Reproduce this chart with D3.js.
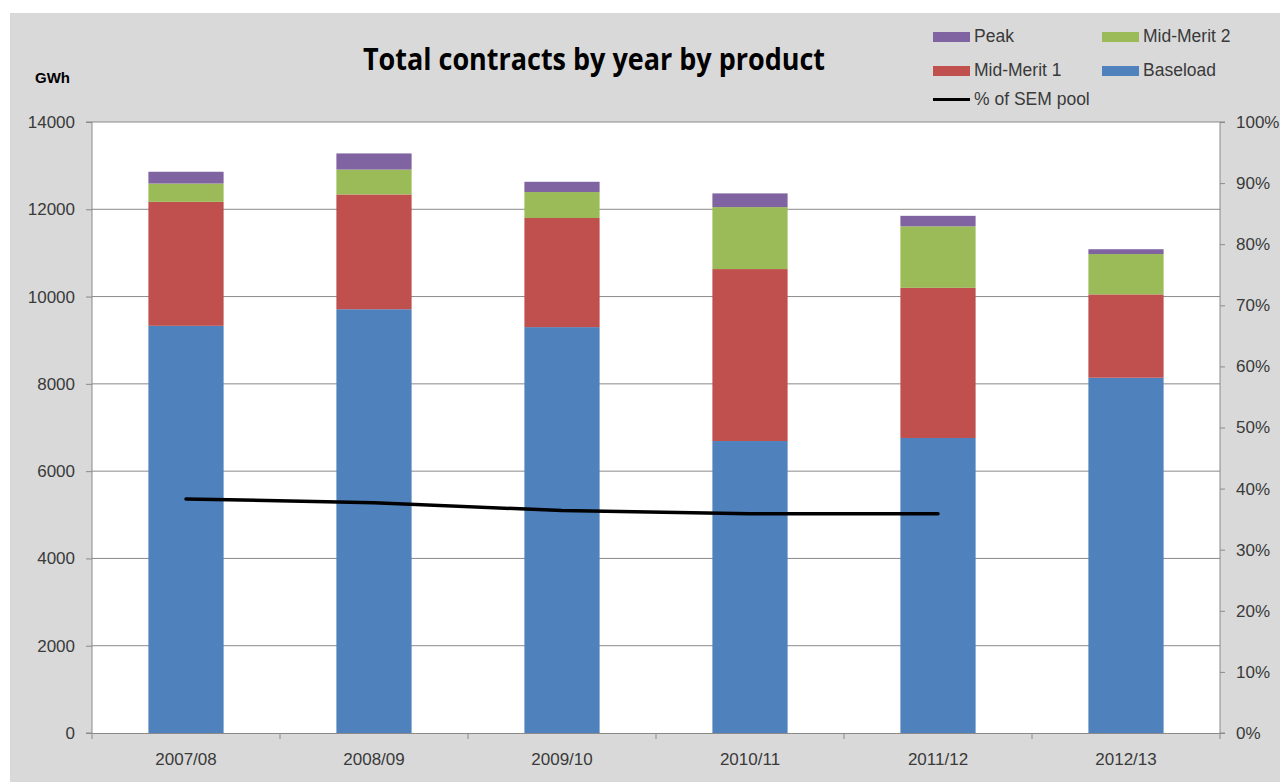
<!DOCTYPE html>
<html>
<head>
<meta charset="utf-8">
<script src="https://cdn.jsdelivr.net/npm/d3@7/dist/d3.min.js"></script>
<style>
  html, body { margin: 0; padding: 0; background: #ffffff; }
  svg { display: block; }
</style>
</head>
<body>
<svg id="chart" width="1280" height="782"></svg>
<script>
// Contract volumes (GWh) by financial year and product
const categories = ["2007/08", "2008/09", "2009/10", "2010/11", "2011/12", "2012/13"];
const baseload  = [9330, 9710, 9300, 6690, 6760, 8140];
const midMerit1 = [2840, 2630, 2500, 3940, 3440, 1910];
const midMerit2 = [420, 570, 595, 1420, 1410, 925];
const peak      = [270, 370, 235, 314, 240, 110];
// Share of the SEM pool covered by contracts (no figure yet for 2012/13)
const semShare  = [0.383, 0.377, 0.364, 0.359, 0.359];

const leftTicks  = [0, 2000, 4000, 6000, 8000, 10000, 12000, 14000];
const rightTicks = [0, 0.1, 0.2, 0.3, 0.4, 0.5, 0.6, 0.7, 0.8, 0.9, 1.0];

const seriesKeys   = ["Baseload", "Mid-Merit 1", "Mid-Merit 2", "Peak"];
const seriesValues = [baseload, midMerit1, midMerit2, peak];
const colors = {
  "Baseload": "#4f81bd",
  "Mid-Merit 1": "#c0504d",
  "Mid-Merit 2": "#9bbb59",
  "Peak": "#8064a2"
};

const rows = categories.map((c, i) => {
  const r = { year: c };
  seriesKeys.forEach((k, j) => { r[k] = seriesValues[j][i]; });
  return r;
});

const svg = d3.select("#chart");
const font = "'Liberation Sans', Arial, sans-serif";
const textColor = "#3a3a3a";

// outer chart area
svg.append("rect").attr("x", 10).attr("y", 13).attr("width", 1270).attr("height", 769)
  .attr("fill", "#d9d9d9");

const plot = { left: 92, right: 1220, top: 122, bottom: 733 };

svg.append("rect").attr("x", plot.left).attr("y", plot.top)
  .attr("width", plot.right - plot.left).attr("height", plot.bottom - plot.top)
  .attr("fill", "#ffffff");

const x = d3.scaleBand().domain(categories).range([plot.left, plot.right])
  .paddingInner(0.6).paddingOuter(0.3);
const y = d3.scaleLinear().domain([0, 14000]).range([plot.bottom, plot.top]);
const yR = d3.scaleLinear().domain([0, 1]).range([plot.bottom, plot.top]);

// horizontal gridlines
svg.append("g").selectAll("line").data(leftTicks.filter(t => t > 0)).join("line")
  .attr("x1", plot.left).attr("x2", plot.right)
  .attr("y1", d => y(d)).attr("y2", d => y(d))
  .attr("stroke", "#8a8a8a").attr("stroke-width", 1);

// stacked bars
const stack = d3.stack().keys(seriesKeys)(rows);
svg.append("g").selectAll("g").data(stack).join("g")
  .attr("fill", d => colors[d.key])
  .selectAll("rect").data(d => d).join("rect")
  .attr("x", d => x(d.data.year))
  .attr("width", x.bandwidth())
  .attr("y", d => y(d[1]))
  .attr("height", d => y(d[0]) - y(d[1]));

// left axis
const leftAxis = svg.append("g").attr("transform", `translate(${plot.left},0)`)
  .call(d3.axisLeft(y).tickValues(leftTicks).tickFormat(d3.format("d")).tickSize(6).tickPadding(11));
// right axis
const rightAxis = svg.append("g").attr("transform", `translate(${plot.right},0)`)
  .call(d3.axisRight(yR).tickValues(rightTicks).tickFormat(d3.format(".0%")).tickSize(5).tickPadding(11));
// bottom axis (labels centred on bars, ticks between categories)
const bottomAxis = svg.append("g").attr("transform", `translate(0,${plot.bottom})`)
  .call(d3.axisBottom(x).tickSize(0).tickPadding(20));
const step = x.step();
const boundaries = d3.range(categories.length + 1).map(i => plot.left + i * step);
bottomAxis.selectAll("line.sep").data(boundaries).join("line")
  .attr("class", "sep")
  .attr("x1", d => d).attr("x2", d => d).attr("y1", 0).attr("y2", 6)
  .attr("stroke", "#8a8a8a");

[leftAxis, rightAxis, bottomAxis].forEach(a => {
  a.select(".domain").attr("stroke", "#8a8a8a");
  a.selectAll(".tick line").attr("stroke", "#8a8a8a");
  a.selectAll("text").attr("font-family", font).attr("font-size", 17).attr("fill", textColor);
});
leftAxis.select(".domain").attr("d", `M-6,${plot.top}H0V${plot.bottom}H-6`);
rightAxis.select(".domain").attr("d", `M5,${plot.top}H0V${plot.bottom}H5`);

// % of SEM pool line
const line = d3.line()
  .x((d, i) => x(categories[i]) + x.bandwidth() / 2)
  .y(d => yR(d));
svg.append("path").datum(semShare)
  .attr("d", line).attr("fill", "none")
  .attr("stroke", "#000000").attr("stroke-width", 3.5)
  .attr("stroke-linejoin", "round").attr("stroke-linecap", "round");

// title and unit label
svg.append("text").attr("x", 594).attr("y", 70).attr("text-anchor", "middle")
  .attr("font-family", "'Open Sans', sans-serif").attr("font-weight", "bold")
  .attr("font-size", 31).attr("fill", "#000000")
  .attr("textLength", 462).attr("lengthAdjust", "spacingAndGlyphs")
  .text("Total contracts by year by product");

svg.append("text").attr("x", 35).attr("y", 83)
  .attr("font-family", font).attr("font-weight", "bold").attr("font-size", 15)
  .attr("fill", "#000000").text("GWh");

// legend
const legendItems = [
  { key: "Peak", x: 933, y: 32, type: "rect" },
  { key: "Mid-Merit 2", x: 1102, y: 32, type: "rect" },
  { key: "Mid-Merit 1", x: 933, y: 66, type: "rect" },
  { key: "Baseload", x: 1102, y: 66, type: "rect" },
  { key: "% of SEM pool", x: 933, y: 95, type: "line" }
];
const legend = svg.append("g");
legendItems.forEach(it => {
  if (it.type === "rect") {
    legend.append("rect").attr("x", it.x).attr("y", it.y).attr("width", 37).attr("height", 10)
      .attr("fill", colors[it.key]);
  } else {
    legend.append("line").attr("x1", it.x).attr("x2", it.x + 37)
      .attr("y1", it.y + 4.5).attr("y2", it.y + 4.5)
      .attr("stroke", "#000000").attr("stroke-width", 3);
  }
  legend.append("text").attr("x", it.x + 41).attr("y", it.y + 10)
    .attr("font-family", font).attr("font-size", 17.5).attr("fill", textColor)
    .text(it.key);
});
</script>
</body>
</html>
